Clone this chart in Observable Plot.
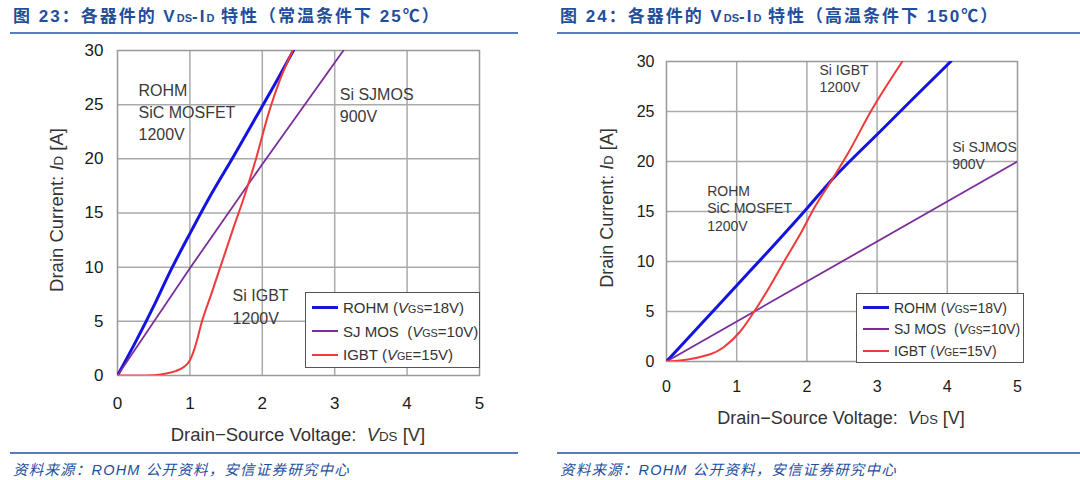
<!DOCTYPE html>
<html><head><meta charset="utf-8">
<script src="https://cdn.jsdelivr.net/npm/d3@7"></script>
<script src="https://cdn.jsdelivr.net/npm/@observablehq/plot@0.6"></script>
<style>
body{margin:0;background:#fff;width:1080px;height:480px;position:relative;overflow:hidden;font-family:"Liberation Sans",Arial,sans-serif;}
.abs{position:absolute;}
.title{color:#1f4e9c;font-family:"Liberation Sans","Noto Sans CJK SC",sans-serif;font-weight:bold;font-size:17px;letter-spacing:2px;white-space:nowrap;line-height:20px;}
.title sub{font-size:11px;vertical-align:baseline;letter-spacing:0}
.rule{height:1.6px;background:#5a7cbf;}
.foot{color:#1f4e9c;font-family:"Liberation Sans","Noto Sans CJK SC",sans-serif;font-style:italic;font-size:14.5px;white-space:nowrap;letter-spacing:1.2px;}
.axt{color:#333;white-space:nowrap;font-family:"Liberation Sans",Arial,sans-serif;}
.axt sub,.leg sub{font-size:0.72em;vertical-align:baseline;font-style:normal}
.leg{border:1.2px solid #555;background:#fff;color:#333;font-family:"Liberation Sans",Arial,sans-serif;}
.leg .row{display:flex;align-items:center;white-space:nowrap;}
.leg .sw{display:inline-block;margin-right:5px;}
</style>
</head><body>
<script>
// ---- Data: Figure 23 (25°C) ----
const rohm25_v = [0, 0.25, 0.5, 0.72, 1.0, 1.3, 1.6, 1.9, 2.2, 2.43];
const rohm25_i = [0, 3.1, 6.4, 9.5, 13.1, 16.8, 20.2, 23.7, 27.2, 30];
const sj25_v = [0, 1, 2, 3.12];
const sj25_i = [0, 9.9, 19.5, 30];
const igbt25_v = [0, 0.4, 0.6, 0.8, 0.92, 1.0, 1.05, 1.1, 1.15, 1.3, 1.45, 1.6, 1.75, 1.9, 2.1, 2.25, 2.42];
const igbt25_i = [0, 0, 0.1, 0.4, 0.8, 1.4, 2.2, 3.3, 4.6, 7.6, 10.6, 13.6, 16.5, 19.7, 24.5, 27.4, 30];
// ---- Data: Figure 24 (150°C) ----
const rohm150_v = [0, 0.5, 1.0, 1.5, 2.0, 2.36, 3.0, 3.5, 4.05];
const rohm150_i = [0, 3.8, 7.6, 11.4, 15.3, 18.2, 22.7, 26.2, 30];
const sj150_v = [0, 5];
const sj150_i = [0, 20];
const igbt150_v = [0, 0.38, 0.81, 1.05, 1.24, 1.48, 1.7, 1.91, 2.1, 2.36, 2.6, 2.91, 3.36];
const igbt150_i = [0, 0.3, 1.4, 3.0, 4.9, 7.6, 10.3, 12.8, 15.3, 18.2, 21.0, 25.0, 30];

const xTicks = [0, 1, 2, 3, 4, 5];
const yTicks = [0, 5, 10, 15, 20, 25, 30];
const seriesNames = ["ROHM", "SJ MOS", "IGBT"];
const colors = {"ROHM": "#1414e0", "SJ MOS": "#7a2d9a", "IGBT": "#f03a3a"};
const widths = {"ROHM": 3, "SJ MOS": 1.8, "IGBT": 2};

const notes25 = [
  {x: 0.29, y: 27.3, t: "ROHM\nSiC MOSFET\n1200V"},
  {x: 3.07, y: 26.9, t: "Si SJMOS\n900V"},
  {x: 1.59, y: 8.3, t: "Si IGBT\n1200V"}
];
const notes150 = [
  {x: 2.18, y: 29.9, t: "Si IGBT\n1200V"},
  {x: 4.07, y: 22.2, t: "Si SJMOS\n900V"},
  {x: 0.58, y: 17.8, t: "ROHM\nSiC MOSFET\n1200V"}
];

function rows(name, vs, is) { return vs.map((v, k) => ({s: name, v, i: is[k]})); }

function makePlot(opts) {
  const {data, notes, width, height, ml, mr, mt, mb, fs, pad, nfs, lh} = opts;
  return Plot.plot({
    width, height, marginLeft: ml, marginRight: mr, marginTop: mt, marginBottom: mb,
    style: {fontFamily: "Liberation Sans, Arial, sans-serif", fontSize: fs + "px", color: "#1a1a1a", background: "transparent"},
    x: {domain: [0, 5], label: null},
    y: {domain: [0, 30], label: null},
    marks: [
      Plot.gridX(xTicks.slice(1, -1), {stroke: "#aaa", strokeOpacity: 1, strokeWidth: 1.5}),
      Plot.gridY(yTicks.slice(1, -1), {stroke: "#aaa", strokeOpacity: 1, strokeWidth: 1.5}),
      Plot.frame({stroke: "#999", strokeWidth: 1.5}),
      Plot.axisX({ticks: xTicks, tickFormat: "d", tickSize: 0, tickPadding: pad.x, fontSize: fs, label: null}),
      Plot.axisY({ticks: yTicks, tickFormat: "d", tickSize: 0, tickPadding: pad.y, fontSize: fs, label: null}),
      ...seriesNames.map(n => Plot.line(data.filter(d => d.s === n), {
        x: "v", y: "i", stroke: colors[n], strokeWidth: widths[n], curve: "monotone-x", clip: true
      })),
      Plot.text(notes, {x: "x", y: "y", text: "t", textAnchor: "start", lineAnchor: "top",
        fontSize: nfs, lineHeight: lh, fill: "#3a3a3a"})
    ]
  });
}

const d25 = [...rows("ROHM", rohm25_v, rohm25_i), ...rows("SJ MOS", sj25_v, sj25_i), ...rows("IGBT", igbt25_v, igbt25_i)];
const d150 = [...rows("ROHM", rohm150_v, rohm150_i), ...rows("SJ MOS", sj150_v, sj150_i), ...rows("IGBT", igbt150_v, igbt150_i)];

function place(el, l, t) { el.style.position = "absolute"; el.style.left = l + "px"; el.style.top = t + "px"; document.body.appendChild(el); return el; }
function div(cls, html, css) { const e = document.createElement("div"); e.className = "abs " + cls; e.innerHTML = html; Object.assign(e.style, css); document.body.appendChild(e); return e; }

// Titles and rules
div("title", "图 23：各器件的 V<sub>DS</sub>-I<sub>D</sub> 特性（常温条件下 25℃）", {left: "13px", top: "7px"});
div("title", "图 24：各器件的 V<sub>DS</sub>-I<sub>D</sub> 特性（高温条件下 150℃）", {left: "560px", top: "7px"});
div("rule", "", {left: "10px", top: "32px", width: "508px"});
div("rule", "", {left: "557px", top: "32px", width: "523px"});
div("rule", "", {left: "10px", top: "452px", width: "508px"});
div("rule", "", {left: "557px", top: "452px", width: "523px"});
div("foot", "资料来源：ROHM 公开资料，安信证券研究中心", {left: "13px", top: "458px"});
div("foot", "资料来源：ROHM 公开资料，安信证券研究中心", {left: "560px", top: "458px"});

// Plots
place(makePlot({data: d25, notes: notes25, width: 460, height: 420, ml: 77, mr: 21, mt: 10, mb: 85, fs: 17, pad: {x: 21, y: 14}, nfs: 16, lh: 1.4}), 40, 40);
place(makePlot({data: d150, notes: notes150, width: 460, height: 400, ml: 86, mr: 23, mt: 21, mb: 79, fs: 16, pad: {x: 19, y: 12}, nfs: 14, lh: 1.25}), 580, 40);

// Axis titles
const xt = '<span>Drain−Source Voltage:&nbsp; <i>V</i><sub>DS</sub> [V]</span>';
const yt = '<span>Drain Current: <i>I</i><sub>D</sub> [A]</span>';
div("axt", xt, {left: "298px", top: "435px", fontSize: "18.5px", transform: "translate(-50%,-50%)"});
div("axt", xt, {left: "841px", top: "418px", fontSize: "18px", transform: "translate(-50%,-50%)"});
div("axt", yt, {left: "57px", top: "210px", fontSize: "18.5px", transform: "translate(-50%,-50%) rotate(-90deg)"});
div("axt", yt, {left: "607px", top: "208px", fontSize: "18px", transform: "translate(-50%,-50%) rotate(-90deg)"});

// Legends
const legLabels = {
  "ROHM": "ROHM (<i>V</i><sub>GS</sub>=18V)",
  "SJ MOS": "SJ MOS&nbsp; (<i>V</i><sub>GS</sub>=10V)",
  "IGBT": "IGBT (<i>V</i><sub>GE</sub>=15V)"
};
function legend(l, t, w, h, fs, rowH) {
  const rowsHtml = seriesNames.map(n =>
    `<div class="row" style="height:${rowH}px"><span class="sw" style="width:26px;height:${widths[n]}px;background:${colors[n]}"></span><span>${legLabels[n]}</span></div>`).join("");
  div("leg", rowsHtml, {left: l + "px", top: t + "px", width: w + "px", height: h + "px", fontSize: fs + "px", padding: "3px 0 0 6px", boxSizing: "border-box"});
}
legend(305, 292, 175, 76, 15, 23.5);
legend(856, 293, 168, 70, 14, 21.5);
</script>
</body></html>
